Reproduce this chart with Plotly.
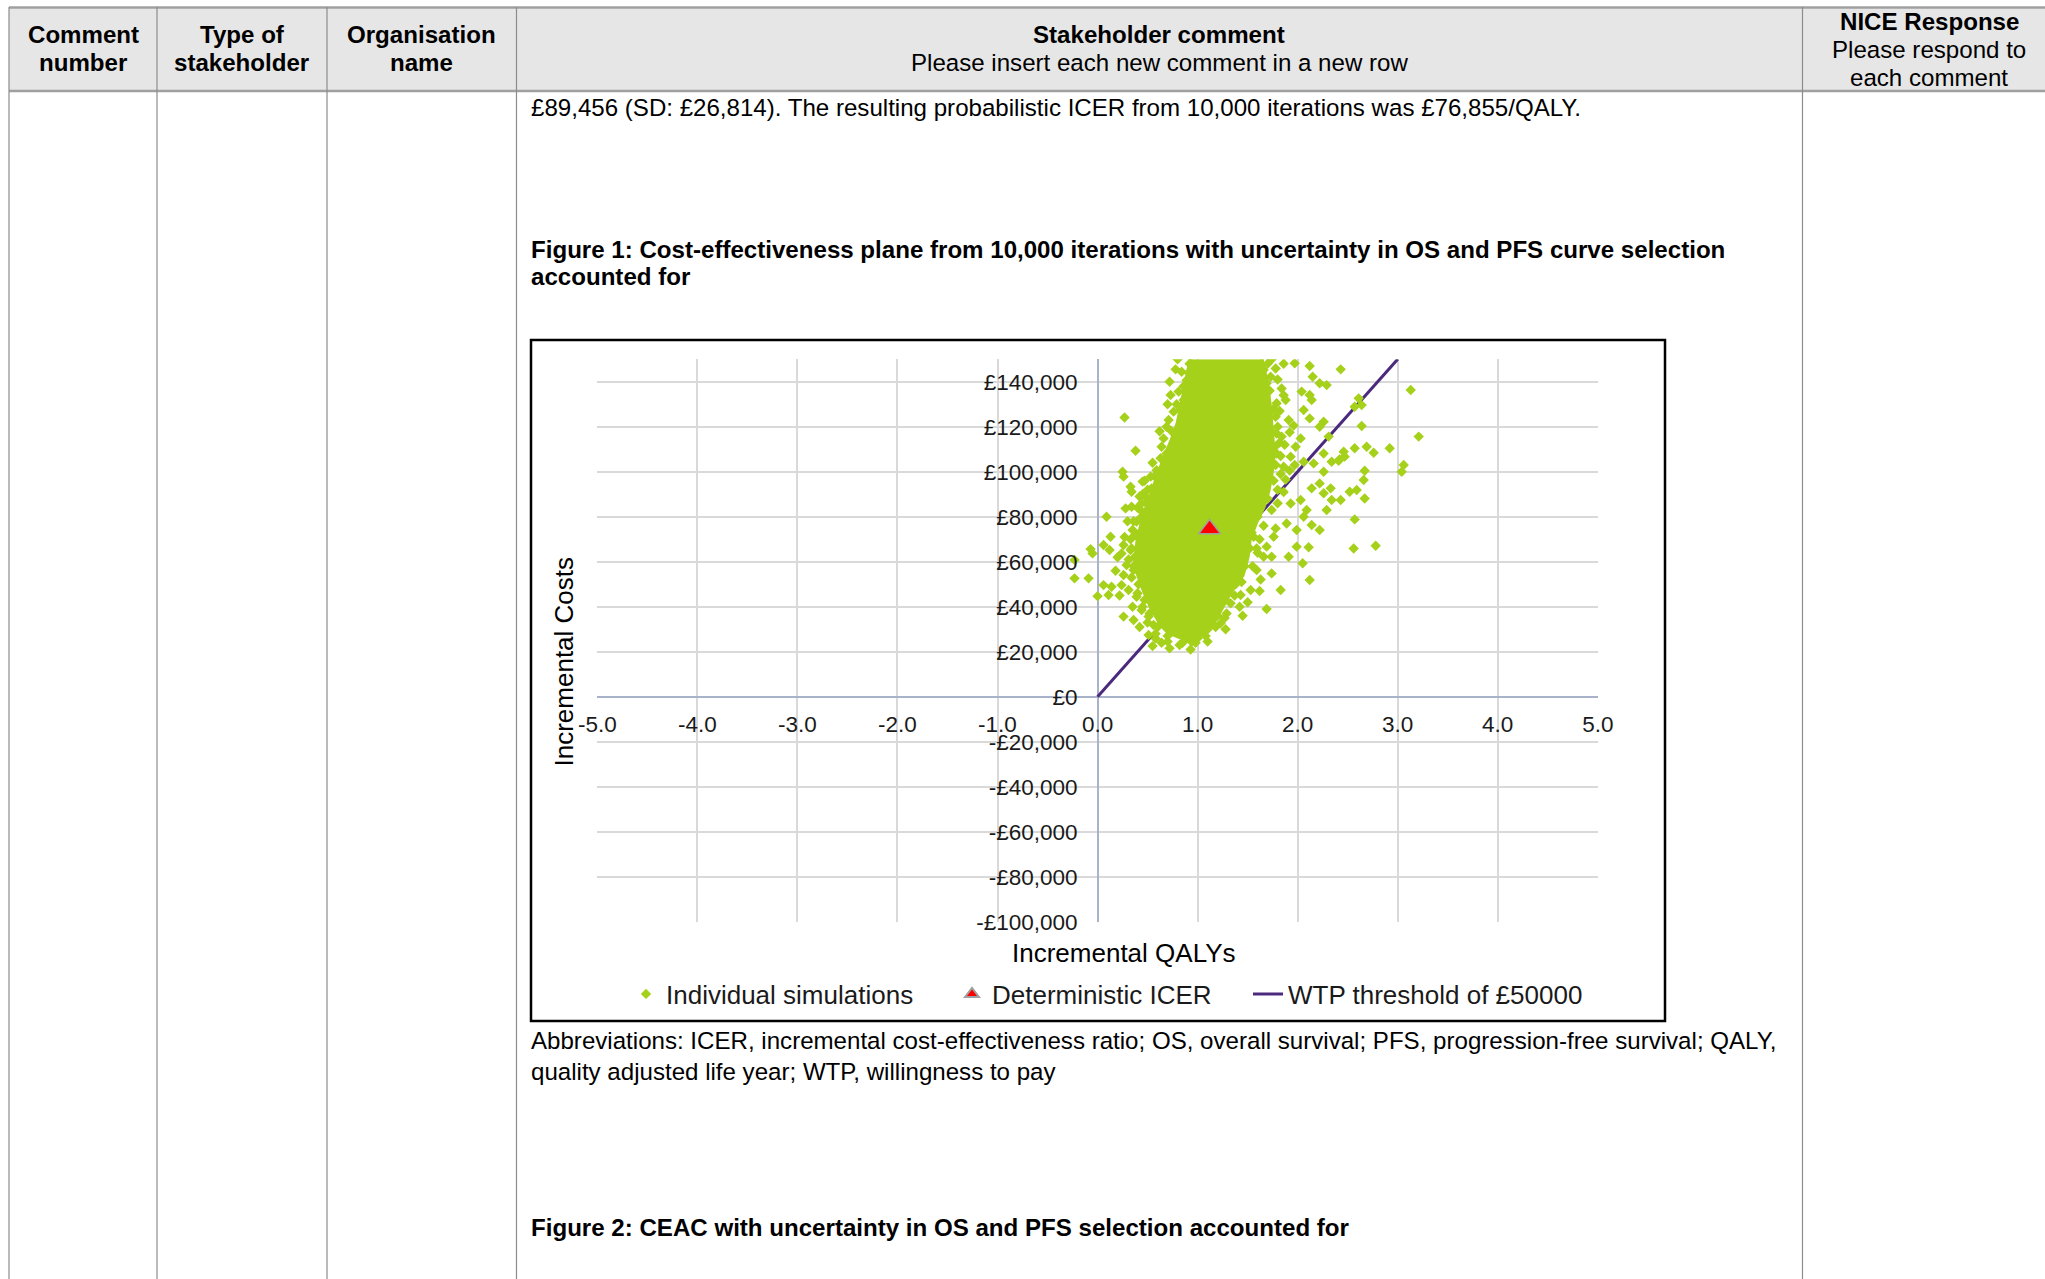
import plotly.graph_objects as go

# ---------------- data ----------------
x_tick_vals = [-5, -4, -3, -2, -1, 0, 1, 2, 3, 4, 5]
x_tick_text = ["-5.0", "-4.0", "-3.0", "-2.0", "-1.0", "0.0", "1.0", "2.0", "3.0", "4.0", "5.0"]
y_tick_vals = [-100000, -80000, -60000, -40000, -20000, 0, 20000, 40000, 60000, 80000, 100000, 120000, 140000]
y_tick_text = ["-£100,000", "-£80,000", "-£60,000", "-£40,000", "-£20,000", "£0", "£20,000",
               "£40,000", "£60,000", "£80,000", "£100,000", "£120,000", "£140,000"]

# WTP threshold line (£50,000 per QALY)
wtp_x = [0.0, 3.0]
wtp_y = [0, 150000]

# Deterministic ICER point
det_x = [1.12]
det_y = [74500]

# Outline of the saturated (fully overlapping) core of the 10,000 simulations
core_x = [0.93, 0.88, 0.84, 0.80, 0.74, 0.67, 0.61, 0.55, 0.49, 0.44, 0.40, 0.38, 0.40, 0.46, 0.53,
          0.62, 0.74, 0.90, 1.03, 1.15, 1.24, 1.33, 1.45, 1.50, 1.52, 1.58, 1.66, 1.71, 1.74, 1.76,
          1.75, 1.74, 1.72, 1.69, 1.64]
core_y = [150000, 140000, 130000, 121500, 114000, 106700, 99300, 91900, 84400, 77000, 69600, 62200,
          54800, 47400, 40000, 33000, 28000, 25000, 27500, 32000, 39000, 46500, 54000, 62200, 69600,
          77000, 84400, 91900, 99300, 106700, 114000, 121500, 130000, 140000, 150000]

# Individual simulations visible outside / at the edge of the core
sim_x = [0.78, 0.84, 0.91, 0.89, 0.93, 0.73, 0.81, 0.86, 0.71, 0.76, 0.83, 0.91, 0.69, 0.27, 0.38,
         0.66, 0.64, 0.69, 0.25, 0.26, 0.33, 0.34, 0.45, 0.53, 0.59, 0.54, 0.48, 0.28, 0.34, 0.43,
         0.09, 0.39, 0.35, 0.13, 0.06, 0.12, 0.26, 0.24, 0.33, -0.05, 0.29, 0.36, 0.26, 0.06, 0.14,
         0.24, 0.31, 0.00, 0.11, 0.39, 0.44, 0.26, 0.36, 0.51, 0.56, 0.51, 0.58, 0.64, 0.69, 0.79,
         0.88, 0.94, 1.04, 1.14, 1.23, 1.29, 1.42, 1.33, 1.69, 1.43, 1.53, 1.63, 1.74, 1.83, 1.59,
         1.66, 1.74, 2.12, 2.05, 1.91, 1.99, 2.11, 1.69, 1.59, 1.56, 1.76, 1.89, 1.78, 1.99, 2.14,
         2.22, 2.06, 2.09, 1.93, 2.03, 2.29, 2.34, 2.43, 2.57, 2.56, 2.78, 2.14, 2.22, 2.26, 2.33,
         2.52, 2.59, 2.67, 2.66, 2.67, 2.26, 2.16, 2.06, 2.34, 2.42, 2.47, 2.46, 2.41, 2.57, 2.69,
         2.76, 2.92, 3.04, 3.06, 3.21, 3.13, 2.26, 2.31, 2.22, 2.03, 1.98, 1.93, 1.86, 1.79, 1.84,
         1.79, 1.91, 1.88, 1.78, 1.79, 1.84, 2.04, 2.12, 2.14, 2.06, 2.12, 2.26, 2.22, 2.29, 2.15,
         2.43, 2.12, 1.97, 1.78, 1.66, 1.73, 1.69, 2.61, 2.64, 2.64, 2.57, -0.23, -0.09, -0.07,
         -0.23, 0.49, 0.44, 0.40, 0.37, 0.38, 0.41, 0.47, 0.52, 0.60, 0.70, 0.85, 1.00, 1.10, 1.20,
         1.28, 1.38, 1.47, 1.52, 1.54, 1.60, 1.70, 1.76, 1.78, 1.77, 1.74, 1.71, 1.66, 1.62, 1.05,
         0.97, 0.90, 0.84, 0.75, 0.68, 0.62, 0.56,
         0.45, 0.40, 0.36, 0.33, 0.31, 0.34, 0.40, 0.45, 0.50, 0.58, 0.70, 0.82, 0.98, 1.08, 1.18,
         1.27, 1.37, 1.44, 1.55, 1.60, 1.62, 1.66, 1.74, 1.80, 1.83, 1.83, 1.82, 1.80, 1.76, 1.72,
         1.70, 0.92, 0.86, 0.79, 0.74, 0.63, 0.57, 0.50, 0.44, 0.38, 0.34, 0.36,
         1.80, 1.86, 1.88, 1.92, 1.97, 1.87, 1.92, 1.96, 1.82, 1.86, 1.80, 1.74, 1.86,
         0.80, 0.72, 0.70, 0.62, 0.55, 0.47, 0.42, 0.30, 0.27, 0.20, 0.18, 0.22, 0.35, 0.42, 0.55,
         0.72, 0.93, 1.10, 1.28, 1.45, 1.50, 1.62]
sim_y = [145500, 144400, 144000, 140700, 136300, 134100, 135600, 131900, 123000, 126700, 127400,
         128100, 120000, 124100, 109300, 114800, 111100, 108100, 100000, 97800, 93300, 91100, 95600,
         97800, 100700, 92600, 88900, 83700, 84400, 83000, 80000, 77800, 74100, 71100, 67400, 65200,
         67400, 63700, 65200, 63700, 58500, 56300, 54100, 49600, 48900, 49600, 47400, 44700, 45200,
         44400, 38500, 35600, 34100, 35600, 31900, 27400, 25900, 24000, 30400, 28900, 26700, 24400,
         30800, 34100, 32600, 37000, 40000, 41500, 39000, 45200, 47400, 52100, 54800, 47400, 56300,
         62200, 62200, 51900, 59300, 62200, 66700, 66400, 66700, 65900, 71100, 71100, 77000, 74800,
         74100, 76300, 74100, 80000, 83000, 85900, 87400, 83000, 87400, 87400, 78800, 65900, 67100,
         92600, 94800, 90400, 92600, 91100, 91900, 88100, 96300, 100400, 100000, 103700, 104400,
         104400, 105500, 106700, 108900, 104900, 110400, 111100, 108400, 110400, 100000, 103000,
         115600, 136300, 108100, 115600, 120000, 114800, 111100, 106700, 102200, 108100, 115600,
         117000, 123000, 131900, 124400, 130400, 137000, 135600, 134100, 131900, 127400, 123700,
         122200, 139300, 138500, 142200, 145500, 147000, 148200, 145900, 145200, 142200, 139300,
         132600, 129600, 120300, 128900, 52600, 52600, 65600, 60800, 86000, 80000, 72000, 62000,
         57000, 50000, 43000, 37000, 31000, 27000, 24000, 26000, 30000, 36000, 43000, 50000, 58000,
         66000, 73000, 80000, 88000, 96000, 103000, 111000, 118000, 126000, 136000, 146000, 146000,
         134000, 124000, 117000, 110000, 103000, 95000, 88000,
         90000, 84000, 78000, 70000, 61000, 53000, 46000, 40000, 33000, 28000, 24500, 23000, 24000,
         27000, 31000, 35000, 45000, 51000, 58000, 64000, 70000, 76000, 83000, 92000, 99000, 107000,
         113000, 120000, 128000, 136000, 148000, 148000, 138000, 130000, 118000, 106000, 98000,
         92000, 86000, 72000, 66000, 58000,
         86000, 91000, 96500, 100500, 103000, 112000, 117500, 120500, 127000, 134000, 141000,
         150000, 148000,
         150000, 140000, 130000, 118000, 104000, 96000, 89000, 78000, 71000, 62000, 56000, 45000,
         40000, 31000, 22500, 21500, 21000, 24500, 30000, 36000, 42000, 47000]

# ---------------- page geometry (pixels of the 2045x1279 page) ----------------
W, H = 2045, 1279
FONT = "Liberation Sans, Arial, sans-serif"
GREEN = "#a6d11b"
PURPLE = "#4b2a7e"


def fx(p):
    return p / W


def fy(p):
    return 1 - p / H


X0, X1 = 597.3, 1597.8      # x = -5 and x = 5
Y0, Y1 = 921.7, 359.2       # y = -100000 and y = 150000
zero_x_paper = fx((X0 + X1) / 2)
zero_y_paper = fy(Y0 + (Y1 - Y0) * 0.4)

fig = go.Figure()

fig.add_trace(go.Scatter(x=wtp_x, y=wtp_y, mode="lines", name="WTP threshold of £50000",
                         line=dict(color=PURPLE, width=3), legend="legend3"))
fig.add_trace(go.Scatter(x=core_x, y=core_y, mode="lines", fill="toself", fillcolor=GREEN,
                         line=dict(color=GREEN, width=4), showlegend=False, hoverinfo="skip"))
fig.add_trace(go.Scatter(x=sim_x, y=sim_y, mode="markers", name="Individual simulations",
                         marker=dict(symbol="diamond", size=8, color=GREEN), legend="legend"))
fig.add_trace(go.Scatter(x=det_x, y=det_y, mode="markers", name="Deterministic ICER",
                         marker=dict(symbol="triangle-up", size=19, color="#ff0000",
                                     line=dict(color="#a0a0a0", width=1.5)), legend="legend2"))

axis_font = dict(family=FONT, size=22.5, color="#1a1a1a")
leg_font = dict(family=FONT, size=26, color="#1a1a1a")

fig.update_layout(
    width=W, height=H, margin=dict(l=0, r=0, t=0, b=0, autoexpand=False),
    paper_bgcolor="white", plot_bgcolor="white",
    font=dict(family=FONT, color="#000000"),
    xaxis=dict(domain=[fx(X0), fx(X1)], range=[-5, 5], tickvals=x_tick_vals, ticktext=x_tick_text,
               anchor="free", position=zero_y_paper, showgrid=True, gridcolor="#d9d9d9", gridwidth=1.5,
               zeroline=True, zerolinecolor="#a8b3ca", zerolinewidth=1.5, showline=False,
               ticks="", tickfont=axis_font, ticklabelstandoff=12, automargin=False),
    yaxis=dict(domain=[fy(Y0), fy(Y1)], range=[-100000, 150000], tickvals=y_tick_vals,
               ticktext=y_tick_text, anchor="free", position=zero_x_paper, showgrid=True,
               gridcolor="#d9d9d9", gridwidth=1.5, zeroline=True, zerolinecolor="#a8b3ca",
               zerolinewidth=2, showline=False, ticks="", tickfont=axis_font, ticklabelstandoff=20,
               automargin=False),
    legend=dict(x=fx(626), y=fy(994), xanchor="left", yanchor="middle", orientation="h",
                bgcolor="rgba(0,0,0,0)", font=leg_font),
    legend2=dict(x=fx(952), y=fy(994), xanchor="left", yanchor="middle", orientation="h",
                 bgcolor="rgba(0,0,0,0)", itemsizing="constant", font=leg_font),
    legend3=dict(x=fx(1248), y=fy(994), xanchor="left", yanchor="middle", orientation="h",
                 bgcolor="rgba(0,0,0,0)", font=leg_font),
)

# ---------------- table frame ----------------
shapes = []
shapes.append(dict(type="rect", xref="paper", yref="paper", x0=fx(9), x1=fx(W), y0=fy(91), y1=fy(7.5),
                   fillcolor="#e6e6e6", line=dict(width=0), layer="below"))
for yy in (7.5, 91):
    shapes.append(dict(type="line", xref="paper", yref="paper", x0=fx(9), x1=fx(W), y0=fy(yy), y1=fy(yy),
                       line=dict(color="#a0a0a0", width=2.5)))
for xx in (9, 157, 327, 516.5, 1802.5):
    shapes.append(dict(type="line", xref="paper", yref="paper", x0=fx(xx), x1=fx(xx), y0=fy(7), y1=0,
                       line=dict(color="#8c8c8c", width=1.2)))
# chart frame
shapes.append(dict(type="rect", xref="paper", yref="paper", x0=fx(531), x1=fx(1665), y0=fy(1021),
                   y1=fy(340), line=dict(color="#000000", width=2.5)))
fig.update_layout(shapes=shapes)

# ---------------- text ----------------
BODY = 24.1


def txt(x, y, s, bold=False, anchor="left", size=BODY, angle=0):
    fig.add_annotation(x=fx(x), y=fy(y), xref="paper", yref="paper", text=("<b>%s</b>" % s) if bold else s,
                       showarrow=False, xanchor=anchor, yanchor="middle", textangle=angle,
                       font=dict(family=FONT, size=size, color="#000000"))


txt(83, 35, "Comment", True, "center")
txt(83, 63, "number", True, "center")
txt(242, 35, "Type of", True, "center")
txt(242, 63, "stakeholder", True, "center")
txt(421.5, 35, "Organisation", True, "center")
txt(421.5, 63, "name", True, "center")
txt(1159, 35, "Stakeholder comment", True, "center")
txt(1159, 63, "Please insert each new comment in a new row", False, "center")
txt(1929, 22, "NICE Response", True, "center")
txt(1929, 50, "Please respond to", False, "center")
txt(1929, 77, "each comment", False, "center")

LX = 528.5
txt(LX, 107, "£89,456 (SD: £26,814). The resulting probabilistic ICER from 10,000 iterations was £76,855/QALY.")
txt(LX, 249, "Figure 1: Cost-effectiveness plane from 10,000 iterations with uncertainty in OS and PFS curve selection", True)
txt(LX, 276.5, "accounted for", True)
txt(LX, 1040, "Abbreviations: ICER, incremental cost-effectiveness ratio; OS, overall survival; PFS, progression-free survival; QALY,")
txt(LX, 1071, "quality adjusted life year; WTP, willingness to pay")
txt(LX, 1227, "Figure 2: CEAC with uncertainty in OS and PFS selection accounted for", True)

# axis titles
txt(563.5, 662, "Incremental Costs", False, "center", 26, -90)
txt(1124, 953, "Incremental QALYs", False, "center", 26)

fig.write_html("out.html", config={"displayModeBar": False},
               post_script="document.body.style.margin='0';document.body.style.overflow='hidden';")
